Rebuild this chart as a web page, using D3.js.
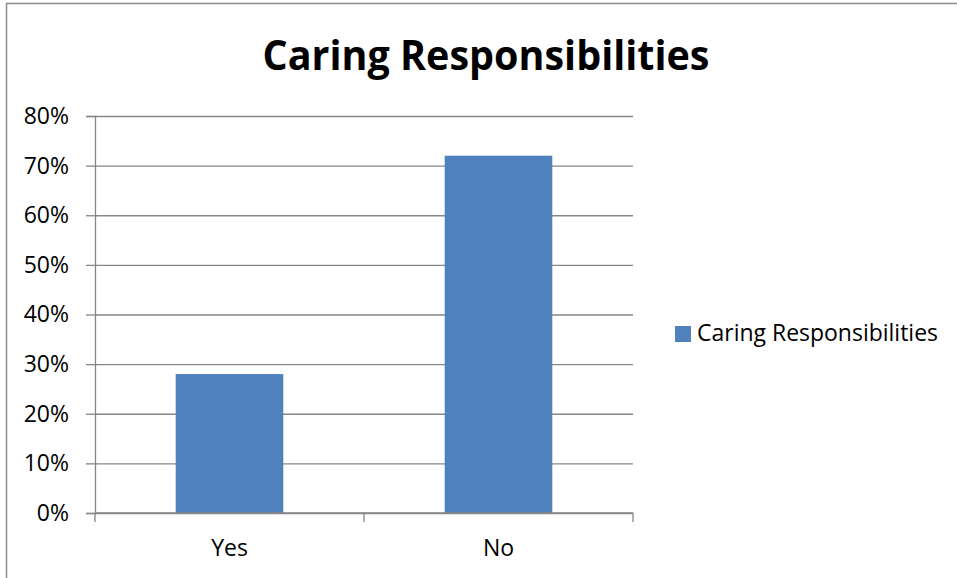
<!DOCTYPE html>
<html>
<head>
<meta charset="utf-8">
<script src="https://cdn.jsdelivr.net/npm/d3@7"></script>
<style>
  body { margin: 0; background: #fff; }
  svg { display: block; }
  text { font-family: "Open Sans", "Liberation Sans", sans-serif; fill: #000; }
</style>
</head>
<body>
<div id="chart"></div>
<script>
// data
var categories = ["Yes", "No"];
var values = [0.28, 0.72];
var yTicks = [0, 0.1, 0.2, 0.3, 0.4, 0.5, 0.6, 0.7, 0.8];
var seriesName = "Caring Responsibilities";
var title = "Caring Responsibilities";

var W = 957, H = 578;
var plot = {left: 95, right: 633, top: 116, bottom: 513};

var svg = d3.select("#chart")
  .append("svg")
    .attr("width", W)
    .attr("height", H);

// outer chart border
svg.append("rect")
  .attr("x", 6.5)
  .attr("y", 3.5)
  .attr("width", W + 20)
  .attr("height", H + 20)
  .attr("fill", "none")
  .attr("stroke", "#8c8c8c")
  .attr("stroke-width", 1.5);

// title
svg.append("text")
  .attr("x", 486)
  .attr("y", 70)
  .attr("text-anchor", "middle")
  .attr("font-size", 41)
  .attr("font-weight", "bold")
  .attr("textLength", 447)
  .attr("lengthAdjust", "spacingAndGlyphs")
  .text(title);

var x = d3.scaleBand()
  .domain(categories)
  .range([plot.left, plot.right])
  .padding(0);

var y = d3.scaleLinear()
  .domain([0, 0.8])
  .range([plot.bottom, plot.top]);

// gridlines
var grid = svg.append("g")
  .attr("transform", "translate(" + plot.left + ",0)")
  .call(d3.axisLeft(y).tickValues(yTicks)
    .tickSize(-(plot.right - plot.left)).tickFormat(""));
grid.select(".domain").remove();
grid.selectAll("line").attr("stroke", "#868686").attr("stroke-width", 1.3);

// y axis with labels
var yAxis = svg.append("g")
  .attr("transform", "translate(" + plot.left + ",0)")
  .call(d3.axisLeft(y).tickValues(yTicks)
    .tickSize(9).tickPadding(17).tickFormat(d3.format(".0%")));
yAxis.select(".domain").attr("stroke", "#868686").attr("stroke-width", 1.3);
yAxis.selectAll("line").attr("stroke", "#868686").attr("stroke-width", 1.3);
yAxis.selectAll("text")
  .attr("font-size", 23)
  .attr("font-family", "Open Sans")
  .attr("fill", "#000");

// bars
var barW = x.bandwidth() * 0.4;
svg.selectAll("rect.bar")
  .data(values)
  .enter()
  .append("rect")
    .attr("class", "bar")
    .attr("x", function(d, i) { return x(categories[i]) + (x.bandwidth() - barW) / 2; })
    .attr("y", function(d) { return y(d); })
    .attr("width", barW)
    .attr("height", function(d) { return y(0) - y(d); })
    .attr("fill", "#4f81bd");

// x axis line and boundary ticks
svg.append("line")
  .attr("x1", plot.left).attr("x2", plot.right)
  .attr("y1", y(0)).attr("y2", y(0))
  .attr("stroke", "#868686").attr("stroke-width", 1.3);

var bounds = categories.map(function(c) { return x(c); })
  .concat([x(categories[categories.length - 1]) + x.bandwidth()]);
svg.selectAll("line.xtick")
  .data(bounds)
  .enter()
  .append("line")
    .attr("class", "xtick")
    .attr("x1", function(d) { return d; })
    .attr("x2", function(d) { return d; })
    .attr("y1", y(0))
    .attr("y2", y(0) + 9)
    .attr("stroke", "#868686")
    .attr("stroke-width", 1.3);

svg.selectAll("text.xlabel")
  .data(categories)
  .enter()
  .append("text")
    .attr("class", "xlabel")
    .attr("x", function(d) { return x(d) + x.bandwidth() / 2; })
    .attr("y", 556)
    .attr("text-anchor", "middle")
    .attr("font-size", 23)
    .text(function(d) { return d; });

// legend
var legend = svg.append("g").attr("transform", "translate(675,326)");
legend.append("rect")
  .attr("width", 16)
  .attr("height", 16)
  .attr("fill", "#4f81bd");
legend.append("text")
  .attr("x", 22)
  .attr("y", 15)
  .attr("font-size", 23)
  .attr("textLength", 241)
  .attr("lengthAdjust", "spacingAndGlyphs")
  .text(seriesName);
</script>
</body>
</html>
